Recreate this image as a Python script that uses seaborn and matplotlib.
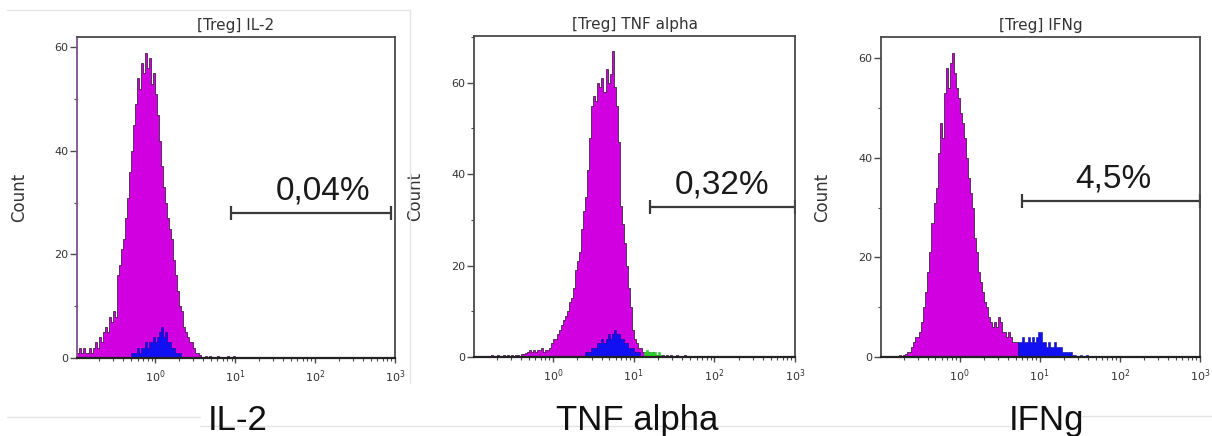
import numpy as np
import pandas as pd
import matplotlib
matplotlib.use("Agg")
import matplotlib.pyplot as plt
from matplotlib.lines import Line2D
from matplotlib.ticker import (FixedLocator, LogLocator, LogFormatterMathtext,
                               NullFormatter, MultipleLocator)
import seaborn as sns

# ---------------------------------------------------------------- data
BIN = 0.025  # histogram bin width, in decades of fluorescence

markers = ["IL-2", "TNF alpha", "IFNg"]
titles = ["[Treg] IL-2", "[Treg] TNF alpha", "[Treg] IFNg"]
percent_labels = ["0,04%", "0,32%", "4,5%"]
gate_low = [8.9, 16.0, 6.1]
gate_high = [890.0, 1000.0, 1000.0]
count_max = [62.0, 70.2, 64.3]

# IL-2: counts per bin, first bin starts at log10 = il2_total_start
il2_total_start = -1.0
il2_total = [1, 1, 2, 1, 2, 1, 1, 2, 1, 2,
             3, 2, 4, 3, 5, 6, 5, 8, 7, 9,
             8, 16, 18, 21, 23, 27, 31, 36, 40, 45,
             49, 54, 52, 57, 55, 59, 56, 58, 53, 55,
             51, 47, 42, 37, 33, 30, 27, 25, 23, 19,
             16, 13, 10, 9, 6, 5, 4, 3, 3, 2,
             1, 1, 0.6, 0, 0, 0.4, 0, 0.4, 0, 0,
             0, 0.4, 0, 0, 0, 0, 0.4, 0, 0, 0.4]
il2_sub_start = -0.3
il2_sub = [1, 1, 1, 2, 1, 2, 2, 3, 2, 3, 3, 4, 3, 4, 5, 6, 4, 5, 3, 3,
           2, 2, 1, 1, 1]

# TNF alpha
tnf_total_start = -0.8
tnf_total = [0, 0.4, 0, 0, 0.4, 0, 0, 0.4, 0, 0.4,
             0, 0.4, 0, 0.4, 0.4, 0, 0.6, 0.6, 0.8, 1,
             1.5, 1, 1.5, 1, 1.5, 1.5, 2, 1, 1.5, 1.5,
             2, 3, 4, 4, 5, 6, 7, 8, 9, 10,
             12, 13, 15, 19, 21, 23, 28, 32, 35, 41,
             48, 55, 57, 56, 60, 59, 61, 58, 63, 60,
             62, 67, 59, 55, 47, 33, 29, 25, 20, 15,
             11, 6, 4, 3, 2, 2, 1, 1, 1, 1,
             0.5, 1, 0.5, 0.5, 0.4, 0.4, 0.4, 0, 0.4, 0,
             0.4, 0, 0, 0.4, 0, 0, 0, 0.4, 0, 0]
tnf_sub_start = 0.4
tnf_sub = [1, 1, 1, 2, 2, 2, 3, 3, 4, 3, 4, 5, 4, 5, 6, 5, 5, 4, 4, 3,
           3, 2, 2, 2, 1, 1, 1]
tnf_extra_start = 1.125
tnf_extra = [1, 1.5, 1, 1, 1, 1, 0.5, 1, 0.5]

# IFNg
ifng_total_start = -0.8
ifng_total = [0, 0, 0.4, 0, 0.5, 0.6, 1, 1, 2, 3,
              4, 4, 5, 7, 10, 13, 17, 21, 27, 31,
              34, 41, 47, 44, 53, 58, 54, 59, 61, 57,
              54, 52, 49, 47, 44, 40, 36, 33, 30, 24,
              21, 17, 15, 13, 11, 10, 8, 7, 6, 7,
              6, 8, 7, 5, 5, 4, 5, 4, 3, 3, 3]
ifng_sub_start = 0.725
ifng_sub = [3, 3, 4, 3, 3, 4, 3, 4, 3, 4, 5, 5, 3, 3, 2, 3, 2, 2, 3, 2,
            2, 2, 1, 1, 1, 1, 1, 0.4, 0.5, 0.3, 0, 0.4, 0.3, 0, 0.4, 0, 0.3]

panels = [
    [(il2_total_start, il2_total, "total"), (il2_sub_start, il2_sub, "sub")],
    [(tnf_total_start, tnf_total, "total"), (tnf_sub_start, tnf_sub, "sub"),
     (tnf_extra_start, tnf_extra, "extra")],
    [(ifng_total_start, ifng_total, "total"), (ifng_sub_start, ifng_sub, "sub")],
]

# ---------------------------------------------------------------- style
sns.set_style("white")
plt.rcParams["font.family"] = ["DejaVu Sans"]

fill_styles = {
    "total": dict(color="#D000E0", edgecolor="#24102a", linewidth=0.5),
    "sub": dict(color="#1010F2", edgecolor="#0a0a90", linewidth=0.4),
    "extra": dict(color="#2FCB2F", edgecolor="#2FCB2F", linewidth=0.4),
}
axis_grey = "#4a4a4a"
text_grey = "#333333"
big_font = "Liberation Sans"

# axes rectangles in figure fractions (left, bottom, width, height)
rects = [(0.0635, 0.1789, 0.2624, 0.7362),
         (0.3911, 0.1812, 0.2649, 0.7362),
         (0.7269, 0.1812, 0.2632, 0.7339)]
gate_y = [28.0, 32.8, 31.4]
pct_pos = [(0.774, 0.495), (0.773, 0.508), (0.727, 0.531)]
marker_x = [238, 637, 1046]


def frame(start, counts):
    centers = start + BIN * (np.arange(len(counts)) + 0.5)
    return pd.DataFrame({"intensity": 10.0 ** centers, "count": counts})


fig = plt.figure(figsize=(12.12, 4.36), dpi=100)

for i, rect in enumerate(rects):
    ax = fig.add_axes(rect)
    for start, counts, kind in panels[i]:
        df = frame(start, counts)
        sns.histplot(data=df, x="intensity", weights="count", log_scale=True,
                     binwidth=BIN, binrange=(start, start + BIN * len(counts)),
                     element="step", fill=True, alpha=1.0, ax=ax,
                     **fill_styles[kind])

    ax.set_xlim(10 ** -0.98, 1000)
    ax.set_ylim(0, count_max[i])

    ax.xaxis.set_major_locator(FixedLocator([1, 10, 100, 1000]))
    ax.xaxis.set_major_formatter(LogFormatterMathtext())
    ax.xaxis.set_minor_locator(LogLocator(base=10, subs=np.arange(2, 10)))
    ax.xaxis.set_minor_formatter(NullFormatter())
    ax.yaxis.set_major_locator(MultipleLocator(20))
    ax.yaxis.set_minor_locator(MultipleLocator(10))

    ax.tick_params(axis="both", which="both", direction="out", colors=axis_grey,
                   labelcolor=text_grey, labelsize=8, bottom=True, left=True,
                   top=False, right=False)
    ax.tick_params(axis="y", which="major", length=5, width=1.0, pad=1)
    ax.tick_params(axis="y", which="minor", length=2.5, width=0.8)
    ax.tick_params(axis="x", which="major", length=3.5, width=1.0, pad=4)
    ax.tick_params(axis="x", which="minor", length=2.5, width=0.8)

    for side, spine in ax.spines.items():
        spine.set_visible(True)
        spine.set_color(axis_grey)
        spine.set_linewidth(1.3)
    ax.spines["bottom"].set_color("#222222")
    ax.spines["bottom"].set_linewidth(1.6)
    if i == 0:
        ax.spines["left"].set_color("#7d4f8f")

    ax.set_xlabel("")
    ax.set_ylabel("Count", fontsize=12, color=text_grey)
    ax.yaxis.set_label_coords(-0.155, 0.5)
    ax.set_title(titles[i], fontsize=11, color=text_grey, pad=5)

    # positive gate with its end caps
    ax.plot([gate_low[i], gate_high[i]], [gate_y[i], gate_y[i]],
            color="#3a3a3a", linewidth=1.6, marker="|", markersize=10,
            markeredgewidth=1.6, solid_capstyle="butt")
    ax.text(pct_pos[i][0], pct_pos[i][1], percent_labels[i],
            transform=ax.transAxes, ha="center", va="baseline",
            fontsize=24, family=big_font, color="#1a1a1a")

    fig.text(marker_x[i] / 1212, 1 - 430 / 436, markers[i], ha="center",
             va="baseline", fontsize=25, family=big_font, color="#111111")

# faint panel separators
sep = "#e4e4e4"
W, H = 1212, 436
for (x0, y0), (x1, y1) in [((7, 10), (410, 10)), ((410, 10), (410, 383)),
                            ((7, 417), (200, 417)), ((200, 426), (1010, 426)),
                            ((1082, 416), (1212, 416))]:
    fig.add_artist(Line2D([x0 / W, x1 / W], [1 - y0 / H, 1 - y1 / H],
                          color=sep, linewidth=1.0))

fig.savefig("out.png", dpi=100, facecolor="white")
